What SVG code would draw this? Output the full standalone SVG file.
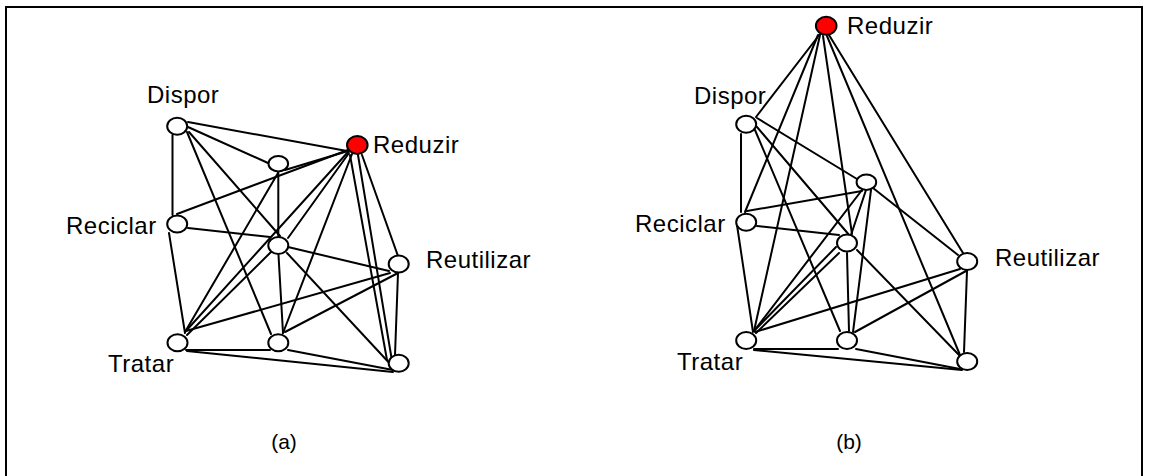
<svg xmlns="http://www.w3.org/2000/svg" width="1149" height="476" viewBox="0 0 1149 476">
<style>
.edge{stroke:#000;stroke-width:2;fill:none;stroke-linecap:round}
.node{fill:#fff;stroke:#000;stroke-width:2}
.red{fill:#ff0000}
.lbl{font-family:"Liberation Sans",Arial,sans-serif;font-size:24px;letter-spacing:0.5px;fill:#000}
.cap{font-family:"Liberation Sans",Arial,sans-serif;font-size:21px;fill:#000;text-anchor:middle}
.frame{stroke:#000;stroke-width:2;fill:none}
</style>
<rect width="1149" height="476" fill="#fff"/>
<path class="frame" d="M6,476 V7 H1142 V476"/>
<g id="connectors-a">
<line class="edge" x1="188" y1="122" x2="347" y2="151"/>
<line class="edge" x1="188" y1="127" x2="268" y2="163"/>
<line class="edge" x1="189" y1="132" x2="280" y2="236"/>
<line class="edge" x1="187" y1="132" x2="271" y2="334"/>
<line class="edge" x1="172.5" y1="135" x2="172.5" y2="215"/>
<line class="edge" x1="278.3" y1="172" x2="278.3" y2="236"/>
<line class="edge" x1="278" y1="173" x2="185" y2="332"/>
<line class="edge" x1="285" y1="170" x2="348" y2="151"/>
<line class="edge" x1="177" y1="214" x2="348" y2="150"/>
<line class="edge" x1="188" y1="228" x2="270" y2="237"/>
<line class="edge" x1="288" y1="247" x2="389" y2="271"/>
<line class="edge" x1="169" y1="233" x2="185" y2="333"/>
<line class="edge" x1="185" y1="332" x2="348" y2="152"/>
<line class="edge" x1="187" y1="335" x2="272" y2="251"/>
<line class="edge" x1="186" y1="331" x2="390" y2="273"/>
<line class="edge" x1="186" y1="350" x2="270" y2="350"/>
<line class="edge" x1="187" y1="351" x2="393" y2="372"/>
<line class="edge" x1="288" y1="350" x2="393" y2="370"/>
<line class="edge" x1="285" y1="332" x2="398" y2="273"/>
<line class="edge" x1="278.5" y1="255" x2="283" y2="333"/>
<line class="edge" x1="283" y1="333" x2="352" y2="154"/>
<line class="edge" x1="288" y1="238" x2="349" y2="153"/>
<line class="edge" x1="287" y1="253" x2="393" y2="367"/>
<line class="edge" x1="362" y1="155" x2="398" y2="256"/>
<line class="edge" x1="350" y1="155" x2="387" y2="360"/>
<line class="edge" x1="358" y1="155" x2="392" y2="361"/>
<line class="edge" x1="398" y1="273" x2="395" y2="355"/>
</g>
<g id="connectors-b">
<line class="edge" x1="820" y1="34" x2="756" y2="117"/>
<line class="edge" x1="818" y1="35" x2="745" y2="212"/>
<line class="edge" x1="820" y1="35" x2="754" y2="331"/>
<line class="edge" x1="823" y1="36" x2="852" y2="234"/>
<line class="edge" x1="827" y1="36" x2="960" y2="355"/>
<line class="edge" x1="829" y1="35" x2="963" y2="253"/>
<line class="edge" x1="741" y1="134" x2="741" y2="212"/>
<line class="edge" x1="757" y1="118" x2="857" y2="179"/>
<line class="edge" x1="757" y1="127" x2="850" y2="236"/>
<line class="edge" x1="755" y1="130" x2="840" y2="331"/>
<line class="edge" x1="747" y1="211" x2="862" y2="191"/>
<line class="edge" x1="757" y1="226" x2="839" y2="235"/>
<line class="edge" x1="737" y1="225" x2="753" y2="332"/>
<line class="edge" x1="862" y1="190" x2="754" y2="331"/>
<line class="edge" x1="754" y1="331" x2="836" y2="247"/>
<line class="edge" x1="756" y1="333" x2="839" y2="253"/>
<line class="edge" x1="755" y1="332" x2="960" y2="269"/>
<line class="edge" x1="754" y1="349" x2="838" y2="349"/>
<line class="edge" x1="754" y1="350" x2="962" y2="370"/>
<line class="edge" x1="855" y1="332" x2="966" y2="271"/>
<line class="edge" x1="856" y1="349" x2="960" y2="369"/>
<line class="edge" x1="847" y1="253" x2="849" y2="331"/>
<line class="edge" x1="871" y1="190" x2="853" y2="332"/>
<line class="edge" x1="866" y1="190" x2="851" y2="235"/>
<line class="edge" x1="873" y1="188" x2="958" y2="255"/>
<line class="edge" x1="857" y1="250" x2="960" y2="356"/>
<line class="edge" x1="967" y1="271" x2="964" y2="352"/>
</g>
<g id="a-dispor"><ellipse class="node" cx="177.2" cy="126.3" rx="10" ry="8.5"/><text class="lbl" x="147" y="103">Dispor</text></g>
<g id="a-top-mid"><ellipse class="node" cx="278.3" cy="163.7" rx="9.8" ry="7.7"/></g>
<g id="a-reduzir"><ellipse class="node red" cx="357.3" cy="145" rx="10.3" ry="9"/><text class="lbl" x="373" y="153">Reduzir</text></g>
<g id="a-reciclar"><ellipse class="node" cx="177.2" cy="224" rx="10" ry="8.5"/><text class="lbl" x="66" y="234">Reciclar</text></g>
<g id="a-middle"><ellipse class="node" cx="278.3" cy="245.5" rx="10" ry="8.5"/></g>
<g id="a-reutilizar"><ellipse class="node" cx="398.7" cy="264" rx="10" ry="8.5"/><text class="lbl" x="426" y="268">Reutilizar</text></g>
<g id="a-tratar"><ellipse class="node" cx="177.5" cy="342.7" rx="10" ry="8.5"/><text class="lbl" x="108" y="372">Tratar</text></g>
<g id="a-bottom-mid"><ellipse class="node" cx="278.3" cy="342.7" rx="10" ry="8.5"/></g>
<g id="a-bottom-right"><ellipse class="node" cx="398.7" cy="363.3" rx="10" ry="8.5"/></g>
<g id="b-reduzir"><ellipse class="node red" cx="826.2" cy="25.8" rx="10.3" ry="9"/><text class="lbl" x="847" y="34">Reduzir</text></g>
<g id="b-dispor"><ellipse class="node" cx="746.2" cy="124.3" rx="10" ry="8.5"/><text class="lbl" x="694" y="104">Dispor</text></g>
<g id="b-top-mid"><ellipse class="node" cx="866.4" cy="182.2" rx="9.8" ry="7.7"/></g>
<g id="b-reciclar"><ellipse class="node" cx="746.2" cy="222.3" rx="10" ry="8.5"/><text class="lbl" x="635" y="232">Reciclar</text></g>
<g id="b-middle"><ellipse class="node" cx="847" cy="243" rx="10" ry="8.5"/></g>
<g id="b-reutilizar"><ellipse class="node" cx="967.2" cy="261.4" rx="10" ry="8.5"/><text class="lbl" x="995" y="266">Reutilizar</text></g>
<g id="b-tratar"><ellipse class="node" cx="746.2" cy="340.5" rx="10" ry="8.5"/><text class="lbl" x="677" y="370">Tratar</text></g>
<g id="b-bottom-mid"><ellipse class="node" cx="847" cy="340.4" rx="10" ry="8.5"/></g>
<g id="b-bottom-right"><ellipse class="node" cx="967.2" cy="361.6" rx="10" ry="8.5"/></g>
<text class="cap" x="284" y="449">(a)</text>
<text class="cap" x="849" y="449">(b)</text>
</svg>
